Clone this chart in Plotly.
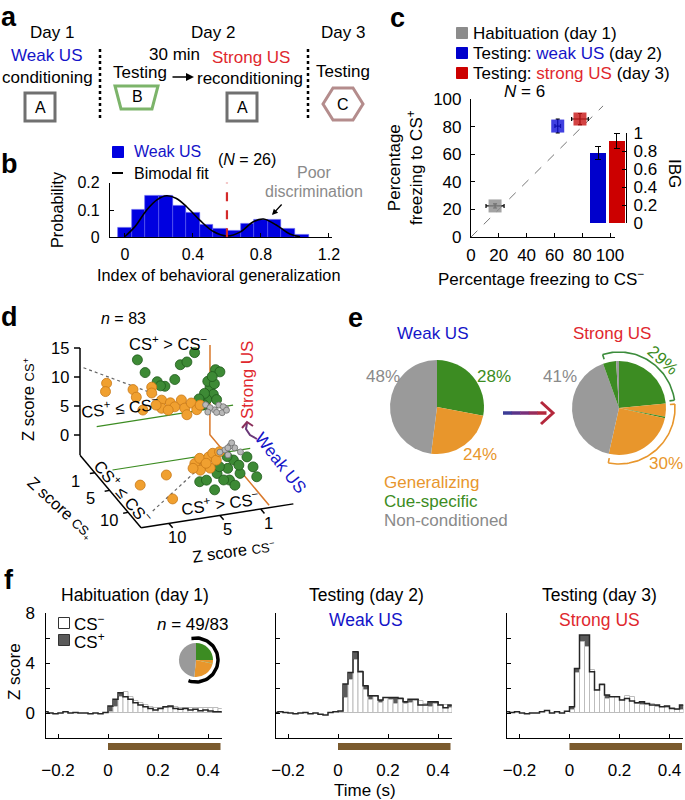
import numpy as np
import plotly.graph_objects as go

W, H = 685, 800
FONT = "Liberation Sans, Arial, Helvetica, sans-serif"

BLUE = "#1414c8"
RED = "#e0282e"
GREEN = "#3c8c22"
ORANGE = "#e8962c"
GRAY = "#9a9a9a"
BROWN = "#7a5a2e"

# ---------------- data ----------------
# b: index of behavioral generalization, weak US (N = 26)
ibg_centers = [0.0, 0.08, 0.16, 0.24, 0.32, 0.40, 0.48, 0.56, 0.64, 0.72, 0.80, 0.88, 0.96, 1.04]
ibg_prob = [0.035, 0.10, 0.152, 0.152, 0.115, 0.09, 0.045, 0.033, 0.023, 0.049, 0.063, 0.063, 0.03, 0.011]
fit_x = [0.0, 0.06, 0.128, 0.19, 0.245, 0.30, 0.363, 0.44, 0.52, 0.60, 0.68, 0.755, 0.815, 0.89, 0.97, 1.03]
fit_y = [0.003, 0.04, 0.10, 0.138, 0.152, 0.143, 0.112, 0.063, 0.021, 0.005, 0.02, 0.057, 0.067, 0.045, 0.012, 0.002]
ibg_cut = 0.6

# c: freezing (N = 6)
freeze_csm = [17.3, 62.4, 78.4]
freeze_csp = [22.5, 80.4, 85.5]
freeze_csm_err = [6.5, 2.0, 6.0]
freeze_csp_err = [1.5, 5.0, 4.0]
freeze_colors = ["#8c8c8c", "#1010d8", "#c81414"]
ibg_day = [0, 1]
ibg_mean = [0.78, 0.91]
ibg_err = [0.07, 0.085]

# d: z scores (CS-, CS+) of units, strong US (wall) and weak US (floor)
strong_gen_m = [9.4, 9.5, 7.0, 6.7, 5.3, 5.3, 6.1, 4.4, 4.4, 3.6, 3.2, 2.6, 2.3, 1.7, 1.2, 0.9, 2.1, 3.8, 4.9]
strong_gen_p = [8.2, 6.8, 6.4, 5.0, 6.3, 5.3, 2.6, 3.8, 2.4, 3.1, 2.3, 3.3, 1.8, 2.5, 1.2, 1.9, 0.6, 1.9, 3.1]
strong_cue_m = [6.6, 5.9, 4.8, 4.1, 3.2, 2.7, 2.1, 1.4, -0.5, -0.9, 0.0, -0.3, 0.3, -0.6, 0.6, 4.5, 0.2, -0.4, 0.5, -0.2, 1.0]
strong_cue_p = [11.4, 9.0, 7.1, 6.1, 7.0, 9.4, 9.7, 11.1, 7.6, 7.1, 4.7, 3.4, 2.7, 2.4, 1.9, 6.3, 5.8, 5.2, 3.8, 6.5, 3.0]
strong_non_m = [0.4, -0.4, -1.1, -1.4, 0.0, -0.8, -1.2, 0.2, -0.6, -1.5]
strong_non_p = [1.8, 0.7, 0.0, 0.7, 1.2, 1.4, 1.0, 0.5, 0.2, 0.3]
weak_gen_m = [9.7, 6.7, 7.9, 3.4, 2.6, 2.6, 1.7, 1.1, 1.3, 2.4, 3.4, 3.9, 0.4, 2.4]
weak_gen_p = [4.9, 3.7, 8.7, 2.3, 1.4, 2.9, 1.4, 0.8, 2.3, 3.7, 3.8, 3.2, 0.7, 2.6]
weak_cue_m = [4.3, 3.6, 1.6, 0.2, -1.0, 0.9, 2.2, -0.2, -0.3, -1.6, 2.1, 1.5, 1.5, 3.6, -1.4, 0.1]
weak_cue_p = [6.1, 8.2, 6.7, 5.7, 6.9, 4.3, 5.0, 2.8, 4.0, 2.6, 6.5, 7.9, 3.7, 6.0, 4.8, 1.9]
weak_non_m = [-0.2, -1.2, -0.9, 0.4, -1.4, -0.1, -1.3, -0.6]
weak_non_p = [0.5, 0.4, -0.1, 0.8, 1.4, 1.6, -0.7, 0.2]

# e: unit classes (%), clockwise from 12 o'clock
weak_pie = [28, 24, 48]
weak_pie_colors = [GREEN, ORANGE, GRAY]
strong_pie = [23.5, 4.5, 0.5, 25.0, 41.0, 4.5, 1.0]
strong_pie_colors = [GREEN, ORANGE, GREEN, ORANGE, GRAY, GREEN, GRAY]
hab_pie = [25.0, 3.0, 0.6, 23.0, 48.4]
hab_pie_colors = [GREEN, ORANGE, GREEN, ORANGE, GRAY]

# f: population PSTHs (z score), 20 ms bins
bin_w = 0.02
stim = [0.0, 0.45]
hab_pre = [0.1, 0.0, -0.05, 0.0, 0.1, 0.0, 0.05, 0.0, 0.0, -0.05, 0.0, -0.05, 0.05]
hab_plus = [0.56, 1.1, 1.63, 1.3, 1.1, 0.83, 0.64, 0.5, 0.37, 0.24, 0.37, 0.5, 0.56, 0.37, 0.3, 0.37, 0.24, 0.3, 0.19, 0.24, 0.16, 0.1, 0.1]
hab_minus = [0.1, 0.5, 1.3, 1.65, 1.3, 1.0, 0.83, 0.64, 0.5, 0.37, 0.37, 0.37, 0.37, 0.5, 0.37, 0.43, 0.37, 0.37, 0.37, 0.43, 0.37, 0.37, 0.32]
weak_pre = [0.05, 0.1, 0.05, 0.0, -0.05, 0.0, 0.05, -0.05, 0.0, -0.1, -0.15, 0.05, 0.1]
weak_plus = [0.16, 2.32, 3.25, 4.9, 3.3, 2.19, 1.39, 1.39, 1.04, 1.25, 1.25, 1.25, 1.17, 0.9, 1.1, 1.1, 0.64, 0.64, 0.9, 0.9, 0.64, 0.43, 0.64]
weak_minus = [0.1, 1.17, 2.64, 4.24, 3.4, 1.84, 1.04, 1.3, 0.77, 1.17, 1.04, 0.72, 1.17, 0.72, 0.77, 0.96, 0.96, 0.72, 0.5, 0.72, 0.64, 0.64, 0.37]
strong_pre = [0.1, 0.05, 0.1, 0.0, -0.05, 0.0, 0.0, 0.1, 0.2, 0.0, 0.1, 0.0, 0.15]
strong_plus = [0.5, 3.57, 6.24, 6.24, 3.3, 1.84, 2.29, 1.44, 1.3, 1.3, 1.04, 1.17, 0.96, 0.83, 0.9, 0.77, 0.64, 0.64, 0.5, 0.56, 0.37, 0.32, 0.64]
strong_minus = [0.24, 3.17, 5.7, 5.3, 3.44, 1.84, 2.29, 1.12, 1.3, 1.3, 1.04, 1.36, 1.3, 0.7, 0.64, 0.64, 0.7, 0.5, 0.5, 0.37, 0.37, 0.24, 0.24]

# ---------------- helpers ----------------
fig = go.Figure()
ann = []
shapes = []


def xdom(a, b):
    return [a / W, b / W]


def ydom(top, bottom):
    return [1 - bottom / H, 1 - top / H]


def txt(x, y, s, size=17, color="black", angle=0, xanchor="center"):
    ann.append(dict(x=x, y=y, xref="x", yref="y", text=s, showarrow=False, textangle=angle,
                    xanchor=xanchor, yanchor="middle",
                    font=dict(family=FONT, size=size, color=color)))


def line(xs, ys, color="black", width=1.5, dash=None):
    fig.add_trace(go.Scatter(x=list(xs), y=list(ys), mode="lines",
                             line=dict(color=color, width=width, dash=dash),
                             hoverinfo="skip", showlegend=False, xaxis="x", yaxis="y"))


def arc(cx, cy, r, a0, a1, color, width, ticks=0):
    a = np.radians(np.linspace(a0, a1, 60))
    line(cx + r * np.sin(a), cy - r * np.cos(a), color, width)
    for e in (a0, a1) if ticks else ():
        t = np.radians(e)
        line([cx + r * np.sin(t), cx + (r - ticks) * np.sin(t)],
             [cy - r * np.cos(t), cy - (r - ticks) * np.cos(t)], color, width)


def square(x, y, color, size=10, edge=None):
    fig.add_trace(go.Scatter(x=[x], y=[y], mode="markers", hoverinfo="skip", showlegend=False,
                             marker=dict(symbol="square", size=size, color=color,
                                         line=dict(color=edge or color, width=1)),
                             xaxis="x", yaxis="y"))


# ---------------- a: schedule ----------------
txt(9, 17, "<b>a</b>", 27)
txt(52, 32, "Day 1")
txt(47, 55, "Weak US", color=BLUE)
txt(47, 77, "conditioning")
txt(213, 32, "Day 2")
txt(174, 54, "30 min")
txt(140, 72, "Testing")
txt(251, 57, "Strong US", color=RED)
txt(250, 78, "reconditioning")
txt(343, 32, "Day 3")
txt(343, 71, "Testing")
for cx in (40, 242):
    shapes.append(dict(type="rect", xref="x", yref="y", x0=cx - 15, x1=cx + 15, y0=93, y1=121,
                       line=dict(color="#707070", width=3)))
    txt(cx, 107, "A", 16)
shapes.append(dict(type="path", xref="x", yref="y", path="M115,86 L158,86 L152,109 L121,109 Z",
                   line=dict(color="#7cb46a", width=3)))
txt(137, 96, "B", 16)
shapes.append(dict(type="path", xref="x", yref="y",
                   path="M323,104 L333,88 L353,88 L363,104 L353,120 L333,120 Z",
                   line=dict(color="#b48c8c", width=3)))
txt(343, 104, "C", 16)
for xv in (100, 308):
    line([xv, xv], [49, 121], "black", 2.5, "dot")
ann.append(dict(x=194, y=77, ax=171, ay=77, xref="x", yref="y", axref="x", ayref="y",
                showarrow=True, arrowhead=2, arrowsize=1, arrowwidth=1.6, arrowcolor="black", text=""))

# ---------------- b: IBG histogram ----------------
txt(9, 164, "<b>b</b>", 27)
fig.add_trace(go.Bar(x=ibg_centers, y=ibg_prob, width=0.08, xaxis="x2", yaxis="y2",
                     marker=dict(color="#0000e0", line=dict(color="#5a5af0", width=0.6)),
                     hoverinfo="skip", showlegend=False))
fig.add_trace(go.Scatter(x=fit_x, y=fit_y, mode="lines", line=dict(color="black", width=1.6, shape="spline"),
                         xaxis="x2", yaxis="y2", hoverinfo="skip", showlegend=False))
shapes.append(dict(type="line", xref="x2", yref="y2", x0=ibg_cut, x1=ibg_cut, y0=0, y1=0.205,
                   line=dict(color="#d42a2a", width=2.2, dash="dash")))
square(118, 152, "#0000e0", 11)
txt(132, 151, "Weak US", 16, BLUE, xanchor="left")
line([112, 123], [173, 173], "black", 2)
txt(132, 173, "Bimodal fit", 16, xanchor="left")
txt(247, 159, "(<i>N</i> = 26)", 16)
txt(314, 172, "Poor", 16, "#8a8a8a")
txt(314, 191, "discrimination", 16, "#8a8a8a")
ann.append(dict(x=272, y=215, ax=283, ay=203, xref="x", yref="y", axref="x", ayref="y",
                showarrow=True, arrowhead=2, arrowsize=0.9, arrowwidth=1.3, arrowcolor="black", text=""))
txt(218, 275, "Index of behavioral generalization", 16.3)
txt(57, 210, "Probability", 16.3, angle=-90)

# ---------------- c: freezing ----------------
txt(397, 18, "<b>c</b>", 27)
legend_c = ["Habituation (day 1)",
            "Testing: <span style='color:#1414c8'>weak US</span> (day 2)",
            "Testing: <span style='color:#e0282e'>strong US</span> (day 3)"]
for i, (lab, col) in enumerate(zip(legend_c, ["#8c8c8c", "#0000cc", "#cc0000"])):
    square(462, 33 + 20 * i, col, 11)
    txt(471, 33 + 20 * i, lab, 17, xanchor="left")
txt(524, 91, "<i>N</i> = 6", 17)
fig.add_trace(go.Scatter(x=[0, 95], y=[0, 95], mode="lines", line=dict(color="#777", width=1, dash="dash"),
                         xaxis="x3", yaxis="y3", hoverinfo="skip", showlegend=False))
fig.add_trace(go.Scatter(x=freeze_csm, y=freeze_csp, mode="markers", xaxis="x3", yaxis="y3",
                         marker=dict(symbol="square", size=13, color=freeze_colors, opacity=0.8, line=dict(width=0)),
                         error_x=dict(type="data", array=freeze_csm_err, color="black", thickness=1.2, width=2),
                         error_y=dict(type="data", array=freeze_csp_err, color="black", thickness=1.2, width=2),
                         hoverinfo="skip", showlegend=False))
fig.add_trace(go.Bar(x=ibg_day, y=ibg_mean, width=0.85, xaxis="x4", yaxis="y4",
                     marker=dict(color=["#0000cc", "#cc0000"], line=dict(width=0)),
                     error_y=dict(type="data", array=ibg_err, color="black", thickness=1.2, width=3),
                     hoverinfo="skip", showlegend=False))
txt(541, 278, "Percentage freezing to CS<sup>−</sup>", 17)
txt(405, 168, "Percentage<br>freezing to CS<sup>+</sup>", 17, angle=-90)
txt(675, 173, "IBG", 17, angle=90)

# ---------------- d: 3D-like scatter ----------------
txt(9, 317, "<b>d</b>", 27)
txt(123, 318, "<i>n</i> = 83", 16)


def wall(m, p):  # strong US plane (back wall)
    m, p = np.asarray(m, float), np.asarray(p, float)
    x = 210 - 11 * m
    return x, 435 - 0.157 * (x - 80) - 5.8 * p


def floor(m, p):  # weak US plane (floor)
    m, p = np.asarray(m, float), np.asarray(p, float)
    return 221 + 3.7 * p - 10.2 * m, 448 + 4.4 * p + 1.6 * m


# axes
line([80, 80], [348, 455])
for v in (0, 5, 10, 15):
    yv = 435 - 5.8 * v
    line([74, 80], [yv, yv])
    txt(71, yv, str(v), 16.5, xanchor="right")
dx, dy = floor([12.73, 12.73], [-3, 13.5])
line(dx, dy)
fx, fy = floor([12.73, -2.2], [13.5, 13.5])
line(fx, fy)
for v in (1, 5, 10):
    x0, y0 = floor(12.73, v)
    line([x0, x0 - 5], [y0, y0 + 0.8])
    txt(x0 - 19, y0 + 8, str(v), 16.5)
for v in (10, 5, 1):
    x0, y0 = floor(v, 13.5)
    line([x0, x0 + 3.7], [y0, y0 + 4.4])
    txt(x0 + 8, y0 + 14, str(v), 16.5)
txt(28, 400, "Z score <span style='font-size:13px'>CS<sup>+</sup></span>", 16.5, angle=-90)
txt(60, 508, "Z score <span style='font-size:13px'>CS<sub>+</sub></span>", 16.5, angle=42)
txt(233, 551, "Z score <span style='font-size:13px'>CS<sup>−</sup></span>", 16.5, angle=-8)

# guide lines
gx, gy = wall([10.3, -2.1], [1, 1])
line(gx, gy, GREEN, 1.2)
gx, gy = floor([11, -2.5], [1, 1])
line(gx, gy, GREEN, 1.2)
gx, gy = wall([11.5, 4.8], [11.5, 4.8])
line(gx, gy, "#666", 1.2, "dot")
gx, gy = floor([10.5, 2], [10.5, 2])
line(gx, gy, "#666", 1.2, "dot")
ux, uy = wall([0, 0], [12, -3])
lx, ly = floor([0, 0], [-3, 13])
line(list(ux) + list(lx), list(uy) + list(ly), "#d9782a", 1.5)

# points
for proj, groups in ((wall, [(strong_cue_m, strong_cue_p, "#3d8a35", "#1f5a1c", 10),
                             (strong_gen_m, strong_gen_p, "#f0a030", "#c87818", 10),
                             (strong_non_m, strong_non_p, "#b8b8b8", "#707070", 6)]),
                     (floor, [(weak_cue_m, weak_cue_p, "#3d8a35", "#1f5a1c", 10),
                              (weak_gen_m, weak_gen_p, "#f0a030", "#c87818", 10),
                              (weak_non_m, weak_non_p, "#b8b8b8", "#707070", 6)])):
    for mm, pp, col, edge, sz in groups:
        px, py = proj(mm, pp)
        fig.add_trace(go.Scatter(x=px, y=py, mode="markers", xaxis="x", yaxis="y",
                                 marker=dict(size=sz, color=col, line=dict(color=edge, width=0.8)),
                                 hoverinfo="skip", showlegend=False))

txt(168, 343, "CS<sup>+</sup> > CS<sup>−</sup>", 16.5)
txt(120, 407, "CS<sup>+</sup> ≤ CS<sup>−</sup>", 16.5, angle=-6)
txt(123, 492, "CS<sup>+</sup> ≤ CS<sup>−</sup>", 16.5, angle=50)
txt(220, 503, "CS<sup>+</sup> > CS<sup>−</sup>", 16.5, angle=-8)
txt(247, 380, "Strong US", 17, RED, angle=-90)
txt(281, 463, "Weak US", 17, BLUE, angle=52)
line([257, 250, 246, 247], [439, 435, 429, 423], "#6a3878", 2)
line([242, 247, 253], [428, 422, 426], "#8a2f5a", 2)

# ---------------- e: pies ----------------
txt(355, 318, "<b>e</b>", 27)
txt(433, 333, "Weak US", 17, BLUE)
txt(612, 333, "Strong US", 17, RED)
fig.add_trace(go.Pie(values=weak_pie, marker=dict(colors=weak_pie_colors, line=dict(width=0)),
                     domain=dict(x=xdom(390, 484), y=ydom(360, 454)), direction="clockwise", sort=False,
                     textinfo="none", hoverinfo="skip", showlegend=False))
fig.add_trace(go.Pie(values=strong_pie, marker=dict(colors=strong_pie_colors, line=dict(width=0)),
                     domain=dict(x=xdom(572, 666), y=ydom(361, 455)), direction="clockwise", sort=False,
                     textinfo="none", hoverinfo="skip", showlegend=False))
txt(383, 376, "48%", 17, "#8a8a8a")
txt(494, 376, "28%", 17, GREEN)
txt(480, 454, "24%", 17, ORANGE)
txt(560, 376, "41%", 17, "#8a8a8a")
txt(663, 360, "29%", 17, GREEN, angle=42)
txt(666, 463, "30%", 17, ORANGE)
arc(619, 408, 56, -17, 82, "#3c8c3c", 1.6, ticks=5)
arc(619, 408, 56, 86, 191, ORANGE, 1.6, ticks=5)
cols = ["#3c3c96", "#5a3488", "#78307a", "#962c5c", "#b4283c"]
xs = np.linspace(503, 546, 6)
for i, c in enumerate(cols):
    line([xs[i], xs[i + 1] + 0.5], [413, 413], c, 3.5)
line([541, 553, 541], [402, 413, 424], "#b4283c", 3)
txt(382, 482, "Generalizing", 17, ORANGE, xanchor="left")
txt(382, 501, "Cue-specific", 17, GREEN, xanchor="left")
txt(382, 520, "Non-conditioned", 17, "#8a8a8a", xanchor="left")

# ---------------- f: PSTHs ----------------
txt(9, 580, "<b>f</b>", 27)
t_pre = np.round(np.arange(-0.26, -0.001, bin_w), 2)
t_post = np.round(np.arange(0, 0.459, bin_w), 2)
panels = [("5", hab_pre, hab_plus, hab_minus), ("6", weak_pre, weak_plus, weak_minus),
          ("7", strong_pre, strong_plus, strong_minus)]
for k, pre, plus, minus in panels:
    xa, ya = "x" + k, "y" + k
    fig.add_trace(go.Bar(x=t_post + bin_w / 2, y=plus, width=bin_w, xaxis=xa, yaxis=ya,
                         marker=dict(color="#5a5a5a", line=dict(width=0)), hoverinfo="skip", showlegend=False))
    fig.add_trace(go.Bar(x=t_post + bin_w / 2, y=minus, width=bin_w, xaxis=xa, yaxis=ya,
                         marker=dict(color="white", line=dict(color="#bdbdbd", width=1)),
                         hoverinfo="skip", showlegend=False))
    sx = list(t_pre) + list(t_post) + [t_post[-1] + bin_w]
    sy = list(pre) + list(plus) + [plus[-1]]
    fig.add_trace(go.Scatter(x=sx, y=sy, mode="lines", line=dict(color="#262626", width=1.5, shape="hv"),
                             xaxis=xa, yaxis=ya, hoverinfo="skip", showlegend=False))
    shapes.append(dict(type="rect", xref=xa, yref=ya + " domain", x0=stim[0], x1=stim[1], y0=-0.095, y1=-0.04,
                       fillcolor=BROWN, line=dict(width=0)))

txt(135, 595, "Habituation (day 1)", 17.5)
txt(366, 595, "Testing (day 2)", 17.5)
txt(366, 620, "Weak US", 17.5, BLUE)
txt(599, 595, "Testing (day 3)", 17.5)
txt(599, 620, "Strong US", 17.5, RED)
square(64, 623, "white", 11, "#333")
square(64, 640, "#5a5a5a", 11, "#333")
txt(72, 623, "CS<sup>−</sup>", 17, xanchor="left")
txt(72, 641, "CS<sup>+</sup>", 17, xanchor="left")
txt(192, 624, "<i>n</i> = 49/83", 17)
fig.add_trace(go.Pie(values=hab_pie, marker=dict(colors=hab_pie_colors, line=dict(width=0)),
                     domain=dict(x=xdom(179, 213), y=ydom(643, 677)), direction="clockwise", sort=False,
                     textinfo="none", hoverinfo="skip", showlegend=False))
arc(196, 660, 22, -12, 200, "black", 3.5)
txt(365, 790, "Time (s)", 17)
txt(14, 672, "Z score", 17, angle=-90)

# ---------------- layout ----------------
ax_style = dict(showline=True, linecolor="black", linewidth=1.2, ticks="inside", ticklen=4,
                tickcolor="black", tickwidth=1.2, showgrid=False, zeroline=False, fixedrange=True,
                automargin=False, tickfont=dict(family=FONT, size=16, color="black"))

layout = dict(
    template="none",
    width=W, height=H, margin=dict(l=0, r=0, t=0, b=0, pad=0), autosize=False,
    paper_bgcolor="white", plot_bgcolor="rgba(0,0,0,0)", barmode="overlay", bargap=0,
    font=dict(family=FONT, size=16, color="black"), showlegend=False,
    xaxis=dict(domain=[0, 1], range=[0, W], visible=False, fixedrange=True, automargin=False),
    yaxis=dict(domain=[0, 1], range=[H, 0], visible=False, fixedrange=True, automargin=False),
    xaxis2=dict(ax_style, domain=xdom(110, 332), range=[-0.088, 1.218], anchor="y2",
                tickvals=[0, 0.4, 0.8, 1.2], ticktext=["0", "0.4", "0.8", "1.2"], ticklabelstandoff=2),
    yaxis2=dict(ax_style, domain=ydom(182.7, 237.3), range=[0, 0.2], anchor="x2",
                tickvals=[0, 0.1, 0.2], ticktext=["0", "0.1", "0.2"], ticklabelstandoff=6),
    xaxis3=dict(ax_style, domain=xdom(471, 615), range=[0, 103.6], anchor="y3",
                tickvals=[0, 20, 40, 60, 80, 100], tickfont=dict(family=FONT, size=17), ticklabelstandoff=2),
    yaxis3=dict(ax_style, domain=ydom(99, 237), range=[0, 100], anchor="x3",
                tickvals=[0, 20, 40, 60, 80, 100], tickfont=dict(family=FONT, size=17), ticklabelstandoff=5),
    xaxis4=dict(domain=xdom(588, 626), range=[-0.55, 1.5], anchor="y4", visible=False, fixedrange=True,
                automargin=False),
    yaxis4=dict(ax_style, domain=ydom(133, 223), range=[0, 1], anchor="x4", side="right",
                tickvals=[0, 0.2, 0.4, 0.6, 0.8, 1], ticktext=["0", "0.2", "0.4", "0.6", "0.8", "1"],
                tickfont=dict(family=FONT, size=17), ticklabelstandoff=3),
    shapes=shapes, annotations=ann,
)
for k, (x0, x1) in zip("567", [(45.5, 221.75), (275.5, 451.75), (507, 683.25)]):
    layout["xaxis" + k] = dict(ax_style, domain=xdom(x0, x1), range=[-0.25, 0.455], anchor="y" + k,
                               tickvals=[-0.2, 0, 0.2, 0.4], ticktext=["−0.2", "0", "0.2", "0.4"],
                               tickfont=dict(family=FONT, size=17), ticklabelstandoff=16)
    layout["yaxis" + k] = dict(ax_style, domain=ydom(613, 738), range=[-2, 8], anchor="x" + k,
                               tickvals=[-2, 0, 2, 4, 6, 8], ticktext=["", "0", "", "4", "", "8"],
                               showticklabels=(k == "5"), tickfont=dict(family=FONT, size=17),
                               ticklabelstandoff=6)

fig.update_layout(layout)
fig.write_html("out.html", config={"displayModeBar": False},
               post_script="document.body.style.margin='0px';")
